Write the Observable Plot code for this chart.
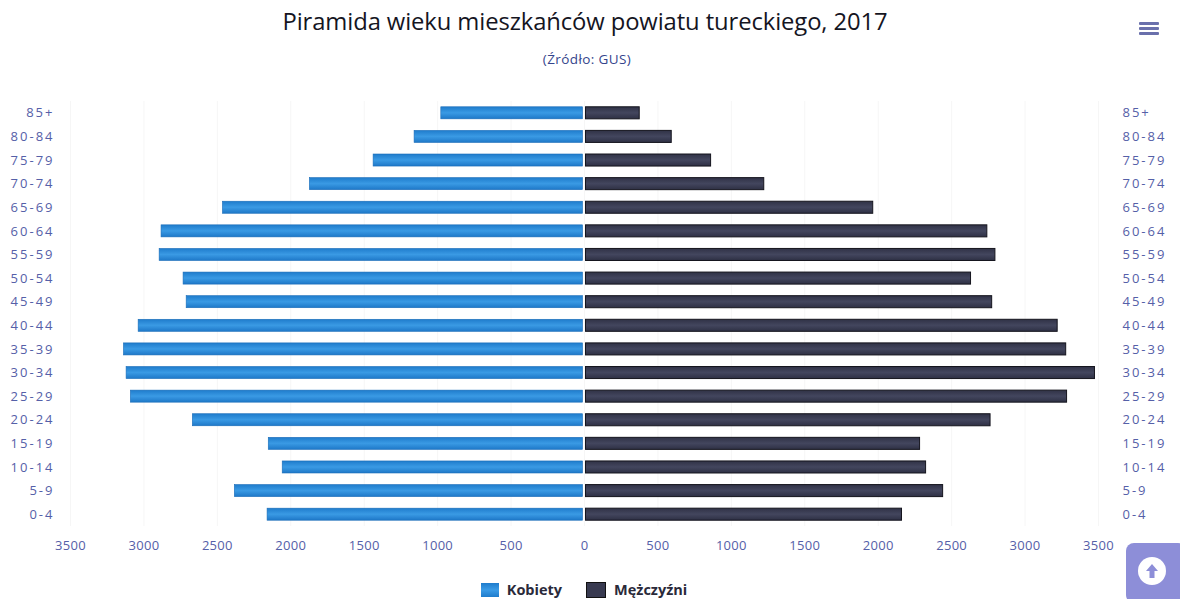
<!DOCTYPE html>
<html>
<head>
<meta charset="utf-8">
<script src="https://cdn.jsdelivr.net/npm/d3@7"></script>
<script src="https://cdn.jsdelivr.net/npm/@observablehq/plot@0.6"></script>
<style>
  body { margin: 0; background: #fff; font-family: "Open Sans", sans-serif; }
  #wrap { position: relative; width: 1180px; height: 599px; overflow: hidden; }
  #title { position: absolute; left: 0; width: 1170px; top: 5px; text-align: center; font-size: 23.8px; color: #15151f; letter-spacing: -0.1px; }
  #subtitle { position: absolute; left: 0; width: 1174px; top: 50px; text-align: center; font-size: 13.5px; color: #34448c; letter-spacing: 0.4px; }
  #chart { position: absolute; left: 0; top: 0; }
  #legend { position: absolute; top: 580px; left: 0; width: 1168px; display: flex; justify-content: center; gap: 24px; font-size: 14.5px; font-weight: bold; color: #2a2a3a; }
  #legend span.item { display: flex; align-items: center; gap: 8px; }
  #legend i { display: inline-block; width: 18px; height: 14px; }
  #menu { position: absolute; left: 1139px; top: 22px; width: 20px; }
  #menu div { height: 3px; background: #6a70ac; margin-bottom: 2px; border-radius: 1px; }
  #up { position: absolute; left: 1126px; top: 543px; width: 60px; height: 60px; background: #8d8ed8; border-radius: 8px; }
  #up .c { position: absolute; left: 12px; top: 14px; width: 28px; height: 28px; border-radius: 50%; background: #fff; }
  .yax text { letter-spacing: 2px; }
  .xax text { letter-spacing: 0.3px; }
</style>
</head>
<body>
<div id="wrap">
  <div id="chart"></div>
  <div id="title">Piramida wieku mieszkańców powiatu tureckiego, 2017</div>
  <div id="subtitle">(Źródło: GUS)</div>
  <div id="menu"><div></div><div></div><div></div></div>
  <div id="legend">
    <span class="item"><i style="background:linear-gradient(#1f7ccc,#3a9be6,#1f7ccc)"></i>Kobiety</span>
    <span class="item"><i style="background:#383a50;border:1px solid #111"></i>Mężczyźni</span>
  </div>
  <div id="up"><div class="c"><svg width="28" height="28" viewBox="0 0 28 28"><path d="M14 7 L20 14 L16.5 14 L16.5 21 L11.5 21 L11.5 14 L8 14 Z" fill="#8d8ed8"/></svg></div></div>
</div>
<script>
const ageGroups = ["85+","80-84","75-79","70-74","65-69","60-64","55-59","50-54","45-49","40-44","35-39","30-34","25-29","20-24","15-19","10-14","5-9","0-4"];
const women = [975,1157,1436,1870,2462,2880,2893,2730,2709,3036,3136,3118,3089,2667,2150,2055,2381,2158];
const men   = [376,594,862,1224,1966,2743,2798,2632,2776,3222,3280,3476,3286,2765,2285,2326,2442,2162];
const xTicks = [-3500,-3000,-2500,-2000,-1500,-1000,-500,0,500,1000,1500,2000,2500,3000,3500];

const rows = ageGroups.map((g, i) => ({group: g, women: women[i], men: men[i]}));

const labelColor = "#5560a8";

const plot = Plot.plot({
  width: 1180,
  height: 560,
  marginLeft: 70,
  marginRight: 82,
  marginTop: 101,
  marginBottom: 34,
  style: {fontFamily: "Open Sans, sans-serif", fontSize: "13px", color: labelColor, background: "transparent"},
  x: {domain: [-3500, 3500], label: null},
  y: {domain: ageGroups, label: null, paddingInner: 0.49, paddingOuter: 0.245, round: false},
  marks: [
    Plot.ruleX(xTicks, {stroke: "#f6f6f6", strokeWidth: 1}),
    Plot.barX(rows, {y: "group", x1: d => -d.women, x2: 0, insetRight: 1.5, fill: "url(#gW)", stroke: "#1a6cb8", strokeWidth: 0.6}),
    Plot.barX(rows, {y: "group", x1: 0, x2: "men", insetLeft: 1.5, fill: "url(#gM)", stroke: "#15151e", strokeWidth: 1}),
    Plot.axisY({anchor: "left", tickSize: 0, tickPadding: 16, fill: labelColor, className: "yax"}),
    Plot.axisY({anchor: "right", tickSize: 0, tickPadding: 24, fill: labelColor, className: "yax"}),
    Plot.axisX({ticks: xTicks, tickFormat: d => String(Math.abs(d)), tickSize: 0, tickPadding: 14, fill: labelColor, className: "xax"})
  ]
});

const svg = d3.select(plot);
const defs = svg.insert("defs", ":first-child");
const gW = defs.append("linearGradient").attr("id", "gW").attr("x1", 0).attr("x2", 0).attr("y1", 0).attr("y2", 1);
gW.append("stop").attr("offset", "0%").attr("stop-color", "#1f7ccc");
gW.append("stop").attr("offset", "50%").attr("stop-color", "#3a9ae4");
gW.append("stop").attr("offset", "100%").attr("stop-color", "#1e78c8");
const gM = defs.append("linearGradient").attr("id", "gM").attr("x1", 0).attr("x2", 0).attr("y1", 0).attr("y2", 1);
gM.append("stop").attr("offset", "0%").attr("stop-color", "#303246");
gM.append("stop").attr("offset", "50%").attr("stop-color", "#43465e");
gM.append("stop").attr("offset", "100%").attr("stop-color", "#2e3044");

document.getElementById("chart").appendChild(plot);
</script>
</body>
</html>
